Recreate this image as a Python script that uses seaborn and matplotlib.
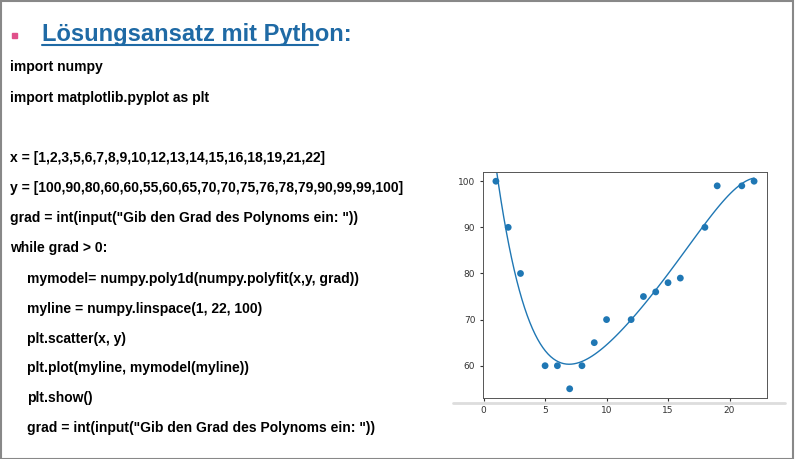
import numpy as np
import matplotlib
matplotlib.use("Agg")
import matplotlib.pyplot as plt
import seaborn as sns

x = [1,2,3,5,6,7,8,9,10,12,13,14,15,16,18,19,21,22]
y = [100,90,80,60,60,55,60,65,70,70,75,76,78,79,90,99,99,100]
degree = 5

code_lines = [
    ("import numpy", 0),
    ("import matplotlib.pyplot as plt", 0),
    ("x = [1,2,3,5,6,7,8,9,10,12,13,14,15,16,18,19,21,22]", 0),
    ("y = [100,90,80,60,60,55,60,65,70,70,75,76,78,79,90,99,99,100]", 0),
    ('grad = int(input("Gib den Grad des Polynoms ein: "))', 0),
    ("while grad > 0:", 0),
    ("mymodel= numpy.poly1d(numpy.polyfit(x,y, grad))", 1),
    ("myline = numpy.linspace(1, 22, 100)", 1),
    ("plt.scatter(x, y)", 1),
    ("plt.plot(myline, mymodel(myline))", 1),
    ("plt.show()", 1),
    ('grad = int(input("Gib den Grad des Polynoms ein: "))', 1),
]
line_px = [67, 98, 158, 188, 218, 248, 279, 309, 339, 368, 398, 428]

sns.set_style("white")
plt.rcParams['font.family'] = ['Liberation Sans', 'DejaVu Sans']

W, H = 795, 459
fig = plt.figure(figsize=(W/100, H/100), dpi=100)

fig.add_artist(plt.Rectangle((0.001, 0.001), 0.997, 0.996, transform=fig.transFigure,
                             fill=False, edgecolor='#888888', lw=1.5))

fig.add_artist(plt.Rectangle((12/W, 1-38/H), 5/W, 5/H, transform=fig.transFigure,
                             color='#e0508a'))
fig.text(42/W, 1-34/H, "Lösungsansatz mit Python:", fontsize=17, fontweight='bold',
         color='#1f6aa5', va='center', ha='left')
fig.add_artist(plt.Line2D([42/W, 318/W], [1-45/H, 1-45/H], transform=fig.transFigure,
                          color='#1f6aa5', lw=1.5))

for (txt, ind), py in zip(code_lines, line_px):
    fig.text((10 + 17*ind)/W, 1-py/H, txt, fontsize=10, fontweight='bold',
             color='black', va='center', ha='left')

ax = fig.add_axes([483/W, 1-398/H, (767-483)/W, (398-172)/H])
sns.scatterplot(x=x, y=y, ax=ax, color='#1f77b4', s=24, edgecolor='none')
model = np.poly1d(np.polyfit(x, y, degree))
xl = np.linspace(1, 22, 100)
sns.lineplot(x=xl, y=model(xl), ax=ax, color='#1f77b4', lw=1)
ax.set_xticks([0, 5, 10, 15, 20])
ax.set_yticks([60, 70, 80, 90, 100])
ax.tick_params(labelsize=6.5, length=2, colors='#333333', left=True, bottom=True)
for lab in ax.get_xticklabels() + ax.get_yticklabels():
    lab.set_fontfamily('DejaVu Sans')
for s in ax.spines.values():
    s.set_edgecolor('#555555'); s.set_linewidth(0.7)
ax.set_xlim(-0.05, 23.05)
ax.set_ylim(53.0, 102.0)

fig.add_artist(plt.Line2D([453/W, 785/W], [1-403/H, 1-403/H], transform=fig.transFigure,
                          color='#dddddd', lw=2))

fig.savefig("out.png", dpi=100)
